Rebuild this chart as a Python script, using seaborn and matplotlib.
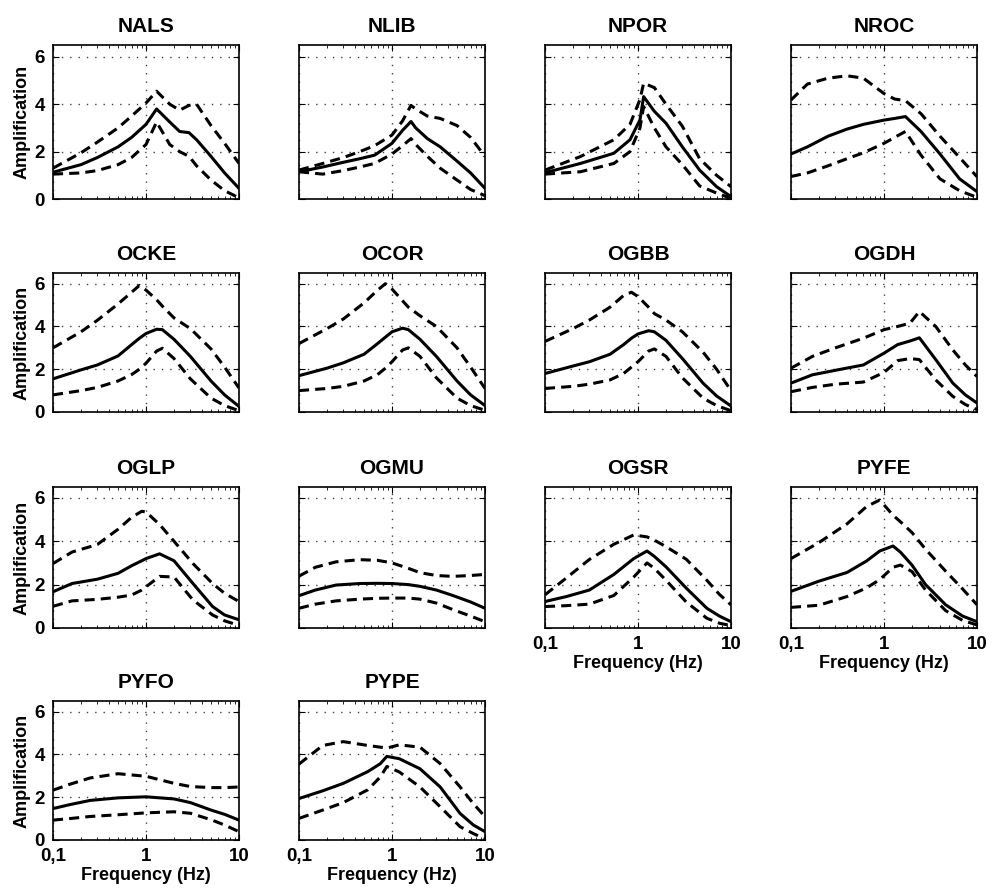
import numpy as np
import pandas as pd
import seaborn as sns
import matplotlib.pyplot as plt
from matplotlib.ticker import NullFormatter, FixedLocator, LogLocator

# Station names in reading order (4 columns)
stations = ['NALS', 'NLIB', 'NPOR', 'NROC',
            'OCKE', 'OCOR', 'OGBB', 'OGDH',
            'OGLP', 'OGMU', 'OGSR', 'PYFE',
            'PYFO', 'PYPE']

# Frequency points (Hz) read for each station
freq = {
    'NALS': [0.1, 0.2, 0.3, 0.5, 0.7, 1.0, 1.3, 1.8, 2.3, 2.9, 3.5, 5, 7, 10],
    'NLIB': [0.1, 0.18, 0.3, 0.45, 0.65, 1.0, 1.3, 1.6, 1.8, 2.4, 3.3, 5, 7, 10],
    'NPOR': [0.1, 0.24, 0.55, 0.82, 1.05, 1.15, 1.5, 2.0, 3.0, 4.6, 7.0, 10],
    'NROC': [0.1, 0.15, 0.25, 0.4, 0.6, 1.0, 1.3, 1.7, 2.5, 4.0, 6.5, 10],
    'OCKE': [0.1, 0.2, 0.3, 0.5, 0.7, 0.85, 1.0, 1.3, 1.5, 2.0, 3.0, 5.0, 7.0, 10],
    'OCOR': [0.1, 0.2, 0.3, 0.5, 0.7, 0.85, 1.0, 1.3, 1.5, 2.0, 3.0, 5.0, 7.0, 10],
    'OGBB': [0.1, 0.2, 0.3, 0.5, 0.7, 0.85, 1.0, 1.3, 1.5, 2.0, 3.0, 5.0, 7.0, 10],
    'OGDH': [0.1, 0.17, 0.3, 0.6, 1.0, 1.4, 1.9, 2.4, 3.6, 5.5, 7.5, 10],
    'OGLP': [0.1, 0.16, 0.3, 0.5, 0.7, 0.9, 1.0, 1.4, 2.0, 3.2, 5.2, 7.0, 10],
    'OGMU': [0.1, 0.15, 0.25, 0.45, 0.7, 1.0, 1.5, 2.0, 3.0, 4.5, 7.0, 10],
    'OGSR': [0.1, 0.17, 0.3, 0.55, 0.9, 1.25, 1.5, 2.0, 3.3, 5.5, 7.5, 10],
    'PYFE': [0.1, 0.2, 0.4, 0.65, 0.9, 1.25, 1.5, 2.0, 2.8, 4.6, 7.0, 10],
    'PYFO': [0.1, 0.15, 0.25, 0.5, 1.0, 2.0, 3.0, 5.0, 7.0, 10],
    'PYPE': [0.1, 0.18, 0.3, 0.55, 0.75, 0.88, 1.2, 2.0, 3.3, 5.4, 7.5, 10],
}

# Median amplification (solid)
median = {
    'NALS': [1.13, 1.45, 1.75, 2.2, 2.6, 3.15, 3.8, 3.25, 2.85, 2.8, 2.5, 1.8, 1.1, 0.45],
    'NLIB': [1.15, 1.35, 1.55, 1.7, 1.85, 2.35, 2.9, 3.27, 3.0, 2.55, 2.2, 1.6, 1.1, 0.45],
    'NPOR': [1.11, 1.5, 1.93, 2.5, 3.34, 4.32, 3.7, 3.2, 2.2, 1.22, 0.52, 0.1],
    'NROC': [1.9, 2.2, 2.65, 2.95, 3.15, 3.33, 3.4, 3.48, 2.85, 1.9, 0.85, 0.31],
    'OCKE': [1.55, 1.97, 2.2, 2.62, 3.15, 3.45, 3.67, 3.87, 3.85, 3.4, 2.6, 1.45, 0.8, 0.26],
    'OCOR': [1.7, 2.05, 2.3, 2.7, 3.2, 3.5, 3.75, 3.92, 3.85, 3.4, 2.6, 1.45, 0.8, 0.3],
    'OGBB': [1.8, 2.15, 2.35, 2.7, 3.15, 3.45, 3.65, 3.8, 3.75, 3.35, 2.5, 1.35, 0.75, 0.28],
    'OGDH': [1.35, 1.74, 1.95, 2.2, 2.75, 3.15, 3.32, 3.47, 2.45, 1.35, 0.8, 0.42],
    'OGLP': [1.67, 2.05, 2.25, 2.52, 2.87, 3.1, 3.2, 3.42, 3.1, 2.05, 0.99, 0.6, 0.38],
    'OGMU': [1.49, 1.75, 1.98, 2.05, 2.06, 2.05, 2.0, 1.92, 1.75, 1.5, 1.2, 0.91],
    'OGSR': [1.22, 1.45, 1.75, 2.47, 3.2, 3.55, 3.3, 2.82, 1.84, 0.91, 0.55, 0.29],
    'PYFE': [1.69, 2.16, 2.56, 3.09, 3.55, 3.78, 3.5, 2.9, 2.0, 1.07, 0.55, 0.29],
    'PYFO': [1.47, 1.65, 1.85, 1.97, 2.02, 1.92, 1.75, 1.4, 1.2, 0.93],
    'PYPE': [1.94, 2.3, 2.65, 3.2, 3.57, 3.91, 3.8, 3.33, 2.48, 1.24, 0.7, 0.39],
}

# Upper bound (dashed)
upper = {
    'NALS': [1.3, 1.95, 2.4, 3.0, 3.5, 4.05, 4.55, 4.0, 3.75, 3.95, 4.0, 3.1, 2.35, 1.5],
    'NLIB': [1.22, 1.5, 1.75, 2.0, 2.25, 2.7, 3.3, 3.95, 3.8, 3.5, 3.4, 3.1, 2.6, 1.8],
    'NPOR': [1.22, 1.79, 2.5, 3.15, 4.2, 4.89, 4.7, 4.0, 3.07, 1.7, 1.0, 0.52],
    'NROC': [4.18, 4.85, 5.1, 5.2, 5.1, 4.45, 4.22, 4.15, 3.6, 2.65, 1.75, 0.94],
    'OCKE': [3.0, 3.75, 4.29, 5.05, 5.6, 5.92, 5.7, 5.25, 4.95, 4.4, 3.9, 2.95, 2.1, 1.12],
    'OCOR': [3.2, 3.9, 4.35, 5.1, 5.7, 6.0, 5.75, 5.2, 4.9, 4.5, 4.0, 3.0, 2.1, 1.1],
    'OGBB': [3.3, 3.9, 4.3, 4.9, 5.45, 5.6, 5.4, 4.9, 4.6, 4.3, 3.75, 2.8, 2.0, 1.0],
    'OGDH': [2.05, 2.6, 3.0, 3.45, 3.85, 4.0, 4.15, 4.7, 4.0, 2.9, 2.2, 1.66],
    'OGLP': [2.97, 3.5, 3.85, 4.55, 5.1, 5.38, 5.35, 4.77, 4.0, 2.97, 2.05, 1.6, 1.22],
    'OGMU': [2.39, 2.8, 3.05, 3.15, 3.12, 3.0, 2.75, 2.55, 2.42, 2.38, 2.42, 2.47],
    'OGSR': [1.53, 2.31, 3.16, 3.86, 4.29, 4.2, 4.05, 3.75, 3.17, 2.2, 1.55, 1.07],
    'PYFE': [3.2, 3.94, 4.8, 5.6, 5.9, 5.2, 4.9, 4.4, 3.63, 2.62, 1.8, 1.07],
    'PYFO': [2.33, 2.6, 2.9, 3.1, 2.98, 2.65, 2.5, 2.45, 2.45, 2.48],
    'PYPE': [3.55, 4.42, 4.6, 4.42, 4.34, 4.3, 4.45, 4.34, 3.57, 2.48, 1.7, 1.09],
}

# Lower bound (dashed)
lower = {
    'NALS': [1.05, 1.1, 1.2, 1.45, 1.75, 2.3, 3.25, 2.3, 2.0, 1.8, 1.4, 0.8, 0.35, 0.05],
    'NLIB': [1.15, 1.05, 1.2, 1.35, 1.5, 1.9, 2.25, 2.55, 2.3, 1.8, 1.3, 0.8, 0.4, 0.14],
    'NPOR': [1.05, 1.15, 1.5, 2.0, 3.0, 3.9, 3.0, 2.2, 1.45, 0.55, 0.25, 0.03],
    'NROC': [0.95, 1.1, 1.4, 1.7, 1.95, 2.35, 2.6, 2.85, 1.85, 0.85, 0.35, 0.07],
    'OCKE': [0.8, 1.0, 1.15, 1.45, 1.75, 2.0, 2.28, 2.85, 2.98, 2.5, 1.55, 0.65, 0.3, 0.06],
    'OCOR': [1.0, 1.1, 1.2, 1.45, 1.75, 2.05, 2.35, 2.9, 3.0, 2.6, 1.6, 0.65, 0.3, 0.08],
    'OGBB': [1.1, 1.2, 1.3, 1.5, 1.8, 2.1, 2.35, 2.85, 2.95, 2.6, 1.6, 0.65, 0.3, 0.06],
    'OGDH': [0.95, 1.15, 1.3, 1.4, 1.85, 2.4, 2.5, 2.45, 1.5, 0.73, 0.35, 0.11],
    'OGLP': [1.0, 1.25, 1.32, 1.42, 1.52, 1.75, 1.9, 2.38, 2.35, 1.29, 0.6, 0.33, 0.12],
    'OGMU': [0.91, 1.1, 1.25, 1.33, 1.37, 1.38, 1.38, 1.33, 1.15, 0.85, 0.55, 0.29],
    'OGSR': [0.99, 1.03, 1.1, 1.5, 2.35, 3.0, 2.75, 2.2, 1.2, 0.45, 0.22, 0.11],
    'PYFE': [0.95, 1.05, 1.45, 1.85, 2.23, 2.8, 2.9, 2.6, 1.75, 0.8, 0.35, 0.14],
    'PYFO': [0.93, 1.0, 1.1, 1.18, 1.27, 1.32, 1.25, 0.95, 0.7, 0.39],
    'PYPE': [1.01, 1.4, 1.75, 2.35, 2.95, 3.44, 3.18, 2.48, 1.55, 0.62, 0.3, 0.05],
}

sns.set_style('ticks')
plt.rcParams['font.family'] = ['Liberation Sans', 'DejaVu Sans']
plt.rcParams['font.weight'] = 'bold'
plt.rcParams['text.color'] = 'k'
plt.rcParams['axes.labelcolor'] = 'k'
plt.rcParams['xtick.color'] = 'k'
plt.rcParams['ytick.color'] = 'k'
plt.rcParams['lines.dashed_pattern'] = [3.3, 2.0]
plt.rcParams['axes.linewidth'] = 1.2

W, H = 993, 893
fig = plt.figure(figsize=(W / 100, H / 100), dpi=100)

# axes boxes in pixels
col_left = [53, 299, 545, 791]
col_w = 186
row_tb = [(45, 199), (273, 412), (487, 628), (701, 840)]
# last row with x labels for each column
bottom_row = {0: 3, 1: 3, 2: 2, 3: 2}

for i, st in enumerate(stations):
    r, c = divmod(i, 4)
    top, bot = row_tb[r]
    ax = fig.add_axes([col_left[c] / W, 1 - bot / H, col_w / W, (bot - top) / H])

    df = pd.DataFrame({'f': freq[st], 'mid': median[st], 'hi': upper[st], 'lo': lower[st]})
    sns.lineplot(data=df, x='f', y='mid', ax=ax, color='k', lw=2.2, errorbar=None)
    sns.lineplot(data=df, x='f', y='hi', ax=ax, color='k', lw=2.2, ls='--', errorbar=None)
    sns.lineplot(data=df, x='f', y='lo', ax=ax, color='k', lw=2.2, ls='--', errorbar=None)

    ax.set_xscale('log')
    ax.set_xlim(0.1, 10)
    ax.set_ylim(0, 6.5)
    ax.xaxis.set_major_locator(FixedLocator([0.1, 1, 10]))
    ax.xaxis.set_minor_locator(LogLocator(base=10, subs=np.arange(2, 10)))
    ax.xaxis.set_minor_formatter(NullFormatter())
    ax.set_yticks([0, 2, 4, 6])
    ax.grid(True, which='major', color='0.25', ls=(0, (1, 5)), lw=1.0)
    ax.tick_params(which='both', direction='in', top=True, right=True, colors='k')
    ax.tick_params(which='major', length=4, labelsize=13.5)
    ax.tick_params(axis='y', pad=6)
    ax.tick_params(axis='x', pad=6)
    ax.tick_params(which='minor', length=2)
    for sp in ax.spines.values():
        sp.set_color('k')

    ax.set_title(st, fontsize=15, fontweight='bold', pad=9, color='k')

    if c == 0:
        ax.set_ylabel('Amplification', fontsize=13, fontweight='bold', labelpad=3)
        for lab in ax.get_yticklabels():
            lab.set_fontweight('bold')
    else:
        ax.set_ylabel('')
        ax.set_yticklabels([])

    if r == bottom_row[c]:
        ax.set_xticklabels(['0,1', '1', '10'], fontweight='bold')
        ax.set_xlabel('Frequency (Hz)', fontsize=13, fontweight='bold', labelpad=1)
    else:
        ax.set_xlabel('')
        ax.set_xticklabels([])

fig.savefig('out.png', dpi=100)
